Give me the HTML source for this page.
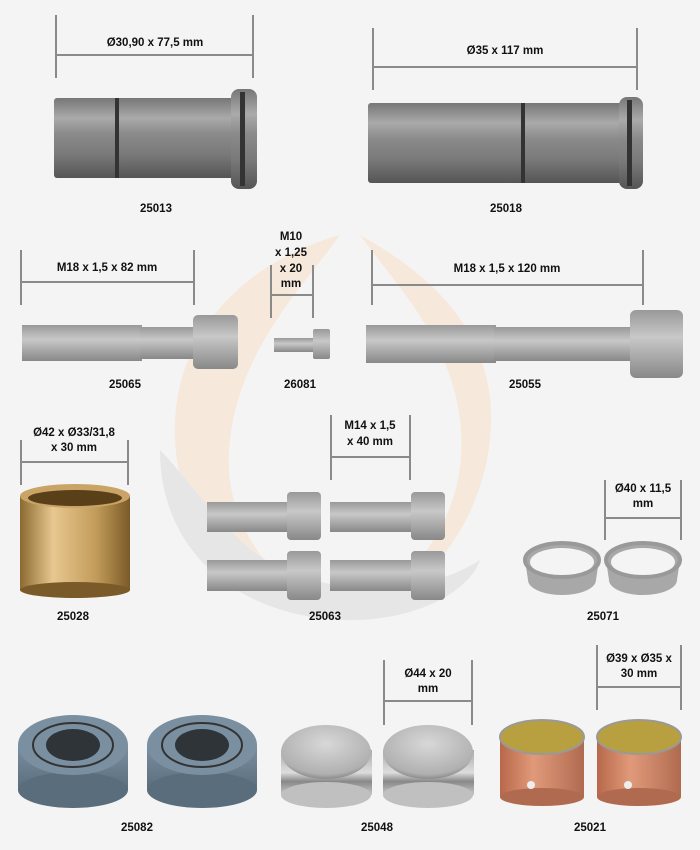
<!DOCTYPE html>
<html><head><meta charset="utf-8"><style>
html,body{margin:0;padding:0;background:#f4f4f4}
svg{display:block}
text{font-family:"Liberation Sans",sans-serif;font-size:11.5px;font-weight:bold;fill:#111;text-anchor:middle}
.d{stroke:#8a8a8a;stroke-width:2;fill:none}
</style></head><body>
<svg width="700" height="850" viewBox="0 0 700 850" xmlns="http://www.w3.org/2000/svg">
<defs>
<linearGradient id="steel" x1="0" y1="0" x2="0" y2="1">
<stop offset="0" stop-color="#777"/><stop offset=".25" stop-color="#aaa"/><stop offset=".45" stop-color="#8a8a8a"/><stop offset=".7" stop-color="#7a7a7a"/><stop offset="1" stop-color="#555"/></linearGradient>
<linearGradient id="bolt" x1="0" y1="0" x2="0" y2="1">
<stop offset="0" stop-color="#999"/><stop offset=".4" stop-color="#c8c8c8"/><stop offset="1" stop-color="#888"/></linearGradient>
<linearGradient id="bronze" x1="0" y1="0" x2="1" y2="0">
<stop offset="0" stop-color="#8a6a30"/><stop offset=".3" stop-color="#e8c890"/><stop offset=".7" stop-color="#c09a58"/><stop offset="1" stop-color="#7a5a28"/></linearGradient>
<linearGradient id="copper" x1="0" y1="0" x2="1" y2="0">
<stop offset="0" stop-color="#b8684a"/><stop offset=".4" stop-color="#e09a7a"/><stop offset="1" stop-color="#b06a50"/></linearGradient>
<linearGradient id="cap" x1="0" y1="0" x2="0" y2="1">
<stop offset="0" stop-color="#aaa"/><stop offset=".5" stop-color="#ddd"/><stop offset=".7" stop-color="#888"/><stop offset="1" stop-color="#c8c8c8"/></linearGradient>
<radialGradient id="dome" cx=".5" cy=".35" r=".7">
<stop offset="0" stop-color="#d8d8d8"/><stop offset=".8" stop-color="#b0b0b0"/><stop offset="1" stop-color="#777"/></radialGradient>
<linearGradient id="seal" x1="0" y1="0" x2="0" y2="1">
<stop offset="0" stop-color="#7a8fa0"/><stop offset="1" stop-color="#5a6d7d"/></linearGradient>
</defs>
<!-- watermark -->
<path d="M340 235 C250 260 170 330 175 440 C180 540 260 610 350 620 C270 590 220 520 230 440 C240 350 300 290 340 235Z" fill="#f6e6d6" opacity=".8"/>
<path d="M360 235 C440 280 500 340 490 440 C480 530 420 600 350 620 C430 570 470 500 460 420 C450 340 400 290 360 235Z" fill="#f6e6d6" opacity=".8"/>
<path d="M160 450 C160 560 250 620 350 620 C420 620 470 590 480 560 C420 600 300 600 240 540 C200 500 180 470 160 450Z" fill="#e6e6e6"/>

<!-- 25013 -->
<path class="d" d="M56 15V78M253 15V78M56 55H253"/>
<text x="155" y="46">Ø30,90 x 77,5 mm</text>
<rect x="54" y="98" width="180" height="80" rx="3" fill="url(#steel)"/>
<rect x="115" y="98" width="4" height="80" fill="#333"/>
<rect x="231" y="89" width="26" height="100" rx="8" fill="url(#steel)"/>
<rect x="240" y="92" width="5" height="94" fill="#333"/>
<text x="156" y="212">25013</text>

<!-- 25018 -->
<path class="d" d="M373 28V90M637 28V90M373 67H637"/>
<text x="505" y="54">Ø35 x 117 mm</text>
<rect x="368" y="103" width="255" height="80" rx="3" fill="url(#steel)"/>
<rect x="521" y="103" width="4" height="80" fill="#333"/>
<rect x="619" y="97" width="24" height="92" rx="8" fill="url(#steel)"/>
<rect x="627" y="100" width="5" height="86" fill="#333"/>
<text x="506" y="212">25018</text>

<!-- 25065 -->
<path class="d" d="M21 250V305M194 250V305M21 282H194"/>
<text x="107" y="271">M18 x 1,5 x 82 mm</text>
<rect x="22" y="325" width="120" height="36" fill="url(#bolt)"/>
<rect x="140" y="327" width="55" height="32" fill="url(#bolt)"/>
<rect x="193" y="315" width="45" height="54" rx="5" fill="url(#bolt)"/>
<text x="125" y="388">25065</text>

<!-- 26081 -->
<path class="d" d="M271 265V318M313 265V318M271 295H313"/>
<text x="291" y="240">M10</text><text x="291" y="256">x 1,25</text><text x="291" y="272">x 20</text><text x="291" y="287">mm</text>
<rect x="274" y="338" width="40" height="14" fill="url(#bolt)"/>
<rect x="313" y="329" width="17" height="30" rx="2" fill="url(#bolt)"/>
<text x="300" y="388">26081</text>

<!-- 25055 -->
<path class="d" d="M372 250V305M643 250V305M372 285H643"/>
<text x="507" y="272">M18 x 1,5 x 120 mm</text>
<rect x="366" y="325" width="130" height="38" fill="url(#bolt)"/>
<rect x="494" y="327" width="140" height="34" fill="url(#bolt)"/>
<rect x="630" y="310" width="53" height="68" rx="6" fill="url(#bolt)"/>
<text x="525" y="388">25055</text>

<!-- 25028 -->
<path class="d" d="M21 440V485M128 440V485M21 462H128"/>
<text x="74" y="436">Ø42 x Ø33/31,8</text><text x="74" y="451">x 30 mm</text>
<rect x="20" y="496" width="110" height="94" fill="url(#bronze)"/>
<ellipse cx="75" cy="590" rx="55" ry="8" fill="#7a5a28"/>
<ellipse cx="75" cy="496" rx="55" ry="12" fill="#c9a466"/>
<ellipse cx="75" cy="498" rx="47" ry="8" fill="#5a4018"/>
<text x="73" y="620">25028</text>

<!-- 25063 -->
<path class="d" d="M331 415V480M410 415V480M331 457H410"/>
<text x="370" y="429">M14 x 1,5</text><text x="370" y="445">x 40 mm</text>
<g fill="url(#bolt)">
<rect x="207" y="502" width="82" height="30"/><rect x="287" y="492" width="34" height="48" rx="4"/>
<rect x="330" y="502" width="82" height="30"/><rect x="411" y="492" width="34" height="48" rx="4"/>
<rect x="207" y="560" width="82" height="31"/><rect x="287" y="551" width="34" height="49" rx="4"/>
<rect x="330" y="560" width="82" height="31"/><rect x="411" y="551" width="34" height="49" rx="4"/>
</g>
<text x="325" y="620">25063</text>

<!-- 25071 -->
<path class="d" d="M605 480V540M681 480V540M605 518H681"/>
<text x="643" y="492">Ø40 x 11,5</text><text x="643" y="507">mm</text>
<g>
<path d="M525 560 A37 17 0 0 1 599 560 L596 580 A34 15 0 0 1 528 580 Z" fill="#a8a8a8"/>
<ellipse cx="562" cy="562" rx="32" ry="14" fill="#f4f4f4"/>
<ellipse cx="562" cy="560" rx="37" ry="17" fill="none" stroke="#999" stroke-width="4"/>
<path d="M606 560 A37 17 0 0 1 680 560 L677 580 A34 15 0 0 1 609 580 Z" fill="#a8a8a8"/>
<ellipse cx="643" cy="562" rx="32" ry="14" fill="#f4f4f4"/>
<ellipse cx="643" cy="560" rx="37" ry="17" fill="none" stroke="#999" stroke-width="4"/>
</g>
<text x="603" y="620">25071</text>

<!-- 25082 -->
<g>
<rect x="18" y="745" width="110" height="45" fill="url(#seal)"/>
<ellipse cx="73" cy="790" rx="55" ry="18" fill="#5a6d7d"/>
<ellipse cx="73" cy="745" rx="55" ry="30" fill="#7a8fa0"/>
<ellipse cx="73" cy="745" rx="40" ry="22" fill="none" stroke="#333" stroke-width="2"/>
<ellipse cx="73" cy="745" rx="27" ry="16" fill="#2e3438"/>
<rect x="147" y="745" width="110" height="45" fill="url(#seal)"/>
<ellipse cx="202" cy="790" rx="55" ry="18" fill="#5a6d7d"/>
<ellipse cx="202" cy="745" rx="55" ry="30" fill="#7a8fa0"/>
<ellipse cx="202" cy="745" rx="40" ry="22" fill="none" stroke="#333" stroke-width="2"/>
<ellipse cx="202" cy="745" rx="27" ry="16" fill="#2e3438"/>
</g>
<text x="137" y="831">25082</text>

<!-- 25048 -->
<path class="d" d="M384 660V725M472 660V725M384 701H472"/>
<text x="428" y="677">Ø44 x 20</text><text x="428" y="692">mm</text>
<rect x="281" y="750" width="91" height="45" fill="url(#cap)"/>
<ellipse cx="326" cy="795" rx="45" ry="13" fill="#c0c0c0"/>
<ellipse cx="326" cy="752" rx="45" ry="27" fill="url(#dome)"/>
<rect x="383" y="750" width="91" height="45" fill="url(#cap)"/>
<ellipse cx="428" cy="795" rx="45" ry="13" fill="#c0c0c0"/>
<ellipse cx="428" cy="752" rx="45" ry="27" fill="url(#dome)"/>
<text x="377" y="831">25048</text>

<!-- 25021 -->
<path class="d" d="M597 645V710M681 645V710M597 687H681"/>
<text x="639" y="662">Ø39 x Ø35 x</text><text x="639" y="677">30 mm</text>
<rect x="500" y="737" width="84" height="60" fill="url(#copper)"/>
<ellipse cx="542" cy="797" rx="42" ry="9" fill="#b06a50"/>
<ellipse cx="542" cy="737" rx="42" ry="17" fill="#b8a040" stroke="#999" stroke-width="2"/>
<circle cx="531" cy="785" r="4" fill="#eee"/>
<rect x="597" y="737" width="84" height="60" fill="url(#copper)"/>
<ellipse cx="639" cy="797" rx="42" ry="9" fill="#b06a50"/>
<ellipse cx="639" cy="737" rx="42" ry="17" fill="#b8a040" stroke="#999" stroke-width="2"/>
<circle cx="628" cy="785" r="4" fill="#eee"/>
<text x="590" y="831">25021</text>
</svg>
</body></html>
